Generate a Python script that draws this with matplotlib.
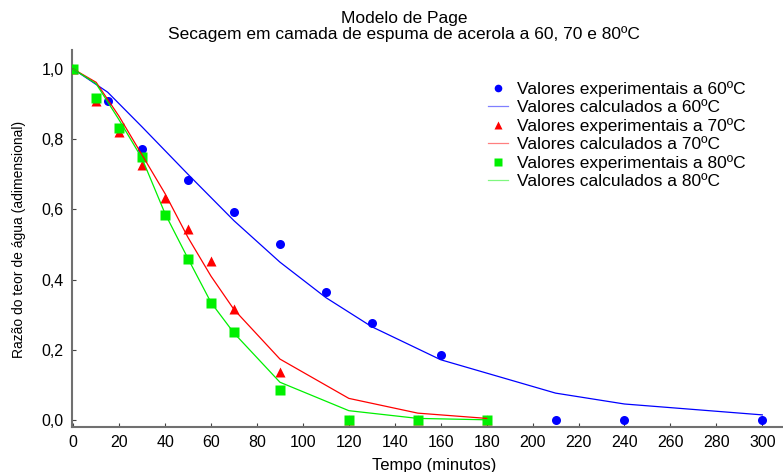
import matplotlib
matplotlib.use("Agg")
import matplotlib.pyplot as plt
from matplotlib.lines import Line2D

plt.rcParams['font.family'] = ['Liberation Sans', 'DejaVu Sans']

# Experimental data
t60_exp = [0, 15, 30, 50, 70, 90, 110, 130, 160, 210, 240, 300]
mr60_exp = [1.0, 0.909, 0.772, 0.684, 0.593, 0.501, 0.365, 0.276, 0.185, 0.0, 0.0, 0.0]
t70_exp = [0, 10, 20, 30, 40, 50, 60, 70, 90, 120, 150, 180]
mr70_exp = [1.0, 0.908, 0.820, 0.727, 0.632, 0.544, 0.453, 0.316, 0.137, 0.0, 0.0, 0.0]
t80_exp = [0, 10, 20, 30, 40, 50, 60, 70, 90, 120, 150, 180]
mr80_exp = [1.0, 0.917, 0.832, 0.749, 0.584, 0.459, 0.333, 0.251, 0.085, 0.0, 0.0, 0.0]

# Calculated (Page model) values
t60_calc = [0, 15, 30, 50, 70, 90, 110, 130, 160, 210, 240, 300]
mr60_calc = [1.0, 0.934, 0.835, 0.700, 0.568, 0.450, 0.349, 0.266, 0.172, 0.077, 0.046, 0.015]
t70_calc = [0, 10, 20, 30, 40, 50, 60, 70, 90, 120, 150, 180]
mr70_calc = [1.0, 0.962, 0.865, 0.755, 0.645, 0.520, 0.410, 0.315, 0.174, 0.062, 0.020, 0.005]
t80_calc = [0, 10, 20, 30, 40, 50, 60, 70, 90, 120, 150, 180]
mr80_calc = [1.0, 0.958, 0.855, 0.745, 0.588, 0.460, 0.335, 0.248, 0.108, 0.027, 0.005, 0.001]

labels = ["Valores experimentais a 60ºC", "Valores calculados a 60ºC",
          "Valores experimentais a 70ºC", "Valores calculados a 70ºC",
          "Valores experimentais a 80ºC", "Valores calculados a 80ºC"]

xticks = list(range(0, 301, 20))
yticks = [0.0, 0.2, 0.4, 0.6, 0.8, 1.0]
yticklabels = ["0,0", "0,2", "0,4", "0,6", "0,8", "1,0"]

blue, red, green = "#0000FF", "#FF0000", "#00F000"

fig = plt.figure(figsize=(7.83, 4.72), dpi=100)
ax = fig.add_axes([0.092, 0.096, 0.908, 0.798])

ms = 6.5
ax.plot(t60_exp, mr60_exp, 'o', color=blue, ms=ms, mec='none', zorder=3)
ax.plot(t70_exp, mr70_exp, '^', color=red, ms=ms + 0.5, mec='none', zorder=3)
ax.plot(t80_exp, mr80_exp, 's', color=green, ms=ms, mec='none', zorder=3)
ax.plot(t60_calc, mr60_calc, '-', color=blue, lw=0.9, zorder=4)
ax.plot(t70_calc, mr70_calc, '-', color=red, lw=0.9, zorder=4)
ax.plot(t80_calc, mr80_calc, '-', color=green, lw=0.9, zorder=4)

ax.set_xlim(-0.5, 309)
ax.set_ylim(-0.0186, 1.054)
ax.set_xticks(xticks)
ax.set_xticklabels([str(v) for v in xticks])
ax.set_yticks(yticks)
ax.set_yticklabels(yticklabels)
ax.tick_params(direction='in', length=3, width=0.8, color='#444444', labelsize=11.5, pad=6)

for s in ['top', 'right']:
    ax.spines[s].set_visible(False)
for s in ['left', 'bottom']:
    ax.spines[s].set_color('#707070')
    ax.spines[s].set_linewidth(1.5)

ax.set_xlabel("Tempo (minutos)", fontsize=12, va='center')
ax.xaxis.set_label_coords(0.509, -0.102)
ax.set_ylabel("Razão do teor de água (adimensional)", fontsize=10, va='center')
ax.yaxis.set_label_coords(-0.0745, 0.498)
fig.text(0.516, 0.976, "Modelo de Page\nSecagem em camada de espuma de acerola a 60, 70 e 80ºC",
         ha='center', va='top', fontsize=12.5, linespacing=1.0)

handles = [
    Line2D([], [], marker='o', color=blue, ls='none', ms=5.5, mec='none'),
    Line2D([], [], color=blue, lw=0.9, alpha=0.5),
    Line2D([], [], marker='^', color=red, ls='none', ms=6, mec='none'),
    Line2D([], [], color=red, lw=0.9, alpha=0.5),
    Line2D([], [], marker='s', color=green, ls='none', ms=5.5, mec='none'),
    Line2D([], [], color=green, lw=0.9, alpha=0.5),
]
leg = ax.legend(handles, labels, loc='upper left', bbox_to_anchor=(0.585, 0.917),
                frameon=False, fontsize=12.5, handlelength=1.15, handletextpad=0.55,
                labelspacing=0.17, borderaxespad=0, borderpad=0)

fig.savefig("out.png", dpi=100)
